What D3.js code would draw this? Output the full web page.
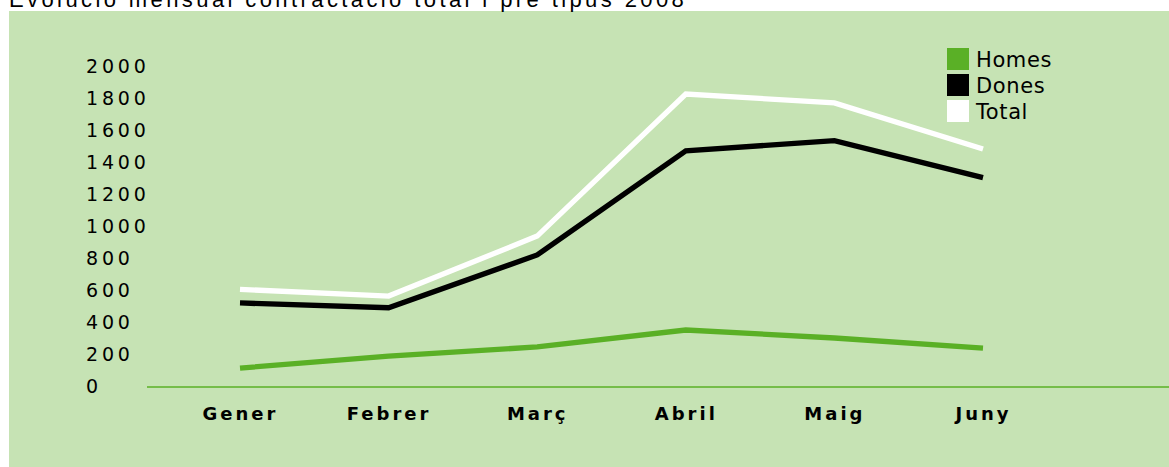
<!DOCTYPE html>
<html>
<head>
<meta charset="utf-8">
<script src="https://cdn.jsdelivr.net/npm/d3@7"></script>
<style>
  body { margin: 0; background: #fff; }
  svg { display: block; }
</style>
</head>
<body>
<div id="chart"></div>
<script>
// Monthly hiring 2008
const months = ["Gener", "Febrer", "Març", "Abril", "Maig", "Juny"];
const homes = [112, 187, 244, 350, 300, 237];
const dones = [519, 489, 819, 1470, 1533, 1302];
const total = [604, 562, 937, 1825, 1769, 1481];
const yTicks = [0, 200, 400, 600, 800, 1000, 1200, 1400, 1600, 1800, 2000];
const seriesNames = ["Homes", "Dones", "Total"];

const width = 1169;
const height = 467;
const bg = "#c6e3b4";
const green = "#5ab026";

const series = [
  { name: "Homes", values: homes, color: green },
  { name: "Dones", values: dones, color: "#000" },
  { name: "Total", values: total, color: "#fff" }
];

const svg = d3.select("#chart").append("svg").attr("width", width).attr("height", height);

svg.append("rect").attr("x", 9).attr("y", 11).attr("width", width - 9).attr("height", height - 11).attr("fill", bg);

// title, cut at the top like the original
svg
  .append("text")
  .attr("x", 9)
  .attr("y", 7)
  .style("font-family", "'Liberation Sans', Arial, sans-serif")
  .style("font-size", "22px")
  .style("letter-spacing", "3.4px")
  .attr("fill", "#000")
  .text("Evolució mensual contractació total i pre tipus 2008");

const x = d3.scalePoint().domain(months).range([240, 983]);
const y = d3.scaleLinear().domain([0, 2000]).range([386, 66]);

// y labels
const yAxis = svg.append("g").call(d3.axisLeft(y).tickValues(yTicks).tickSize(0).tickFormat(d3.format("d")));
yAxis.select(".domain").remove();
yAxis
  .selectAll("text")
  .attr("x", 86)
  .attr("dy", "0.36em")
  .attr("text-anchor", "start")
  .attr("fill", "#000")
  .style("font-family", "'DejaVu Sans', sans-serif")
  .style("font-size", "19px")
  .style("letter-spacing", "3.8px");

// baseline
svg
  .append("line")
  .attr("x1", 147)
  .attr("x2", width)
  .attr("y1", y(0) + 1)
  .attr("y2", y(0) + 1)
  .attr("stroke", green)
  .attr("stroke-width", 1.5);

// x labels
const xAxis = svg.append("g").attr("transform", `translate(0, ${y(0) + 1})`).call(d3.axisBottom(x).tickSize(0));
xAxis.select(".domain").remove();
xAxis
  .selectAll("text")
  .attr("y", 33)
  .attr("dy", null)
  .attr("fill", "#000")
  .style("font-family", "'DejaVu Sans', sans-serif")
  .style("font-size", "18px")
  .style("font-weight", "bold")
  .style("letter-spacing", "3px");

const line = d3
  .line()
  .x((d, i) => x(months[i]))
  .y((d) => y(d));

svg
  .selectAll(".series")
  .data(series)
  .enter()
  .append("path")
  .attr("class", "series")
  .attr("d", (d) => line(d.values))
  .attr("fill", "none")
  .attr("stroke", (d) => d.color)
  .attr("stroke-width", 5.3)
  .attr("stroke-linejoin", "miter");

// legend
const legend = svg
  .selectAll(".legend")
  .data(series)
  .enter()
  .append("g")
  .attr("class", "legend")
  .attr("transform", (d, i) => `translate(947, ${48 + i * 26})`);

legend.append("rect").attr("width", 22).attr("height", 22).attr("fill", (d) => d.color);

legend
  .append("text")
  .attr("x", 29)
  .attr("y", 19)
  .attr("fill", "#000")
  .style("font-family", "'DejaVu Sans', sans-serif")
  .style("font-size", "21px")
  .style("letter-spacing", "0.6px")
  .text((d, i) => seriesNames[i]);
</script>
</body>
</html>
